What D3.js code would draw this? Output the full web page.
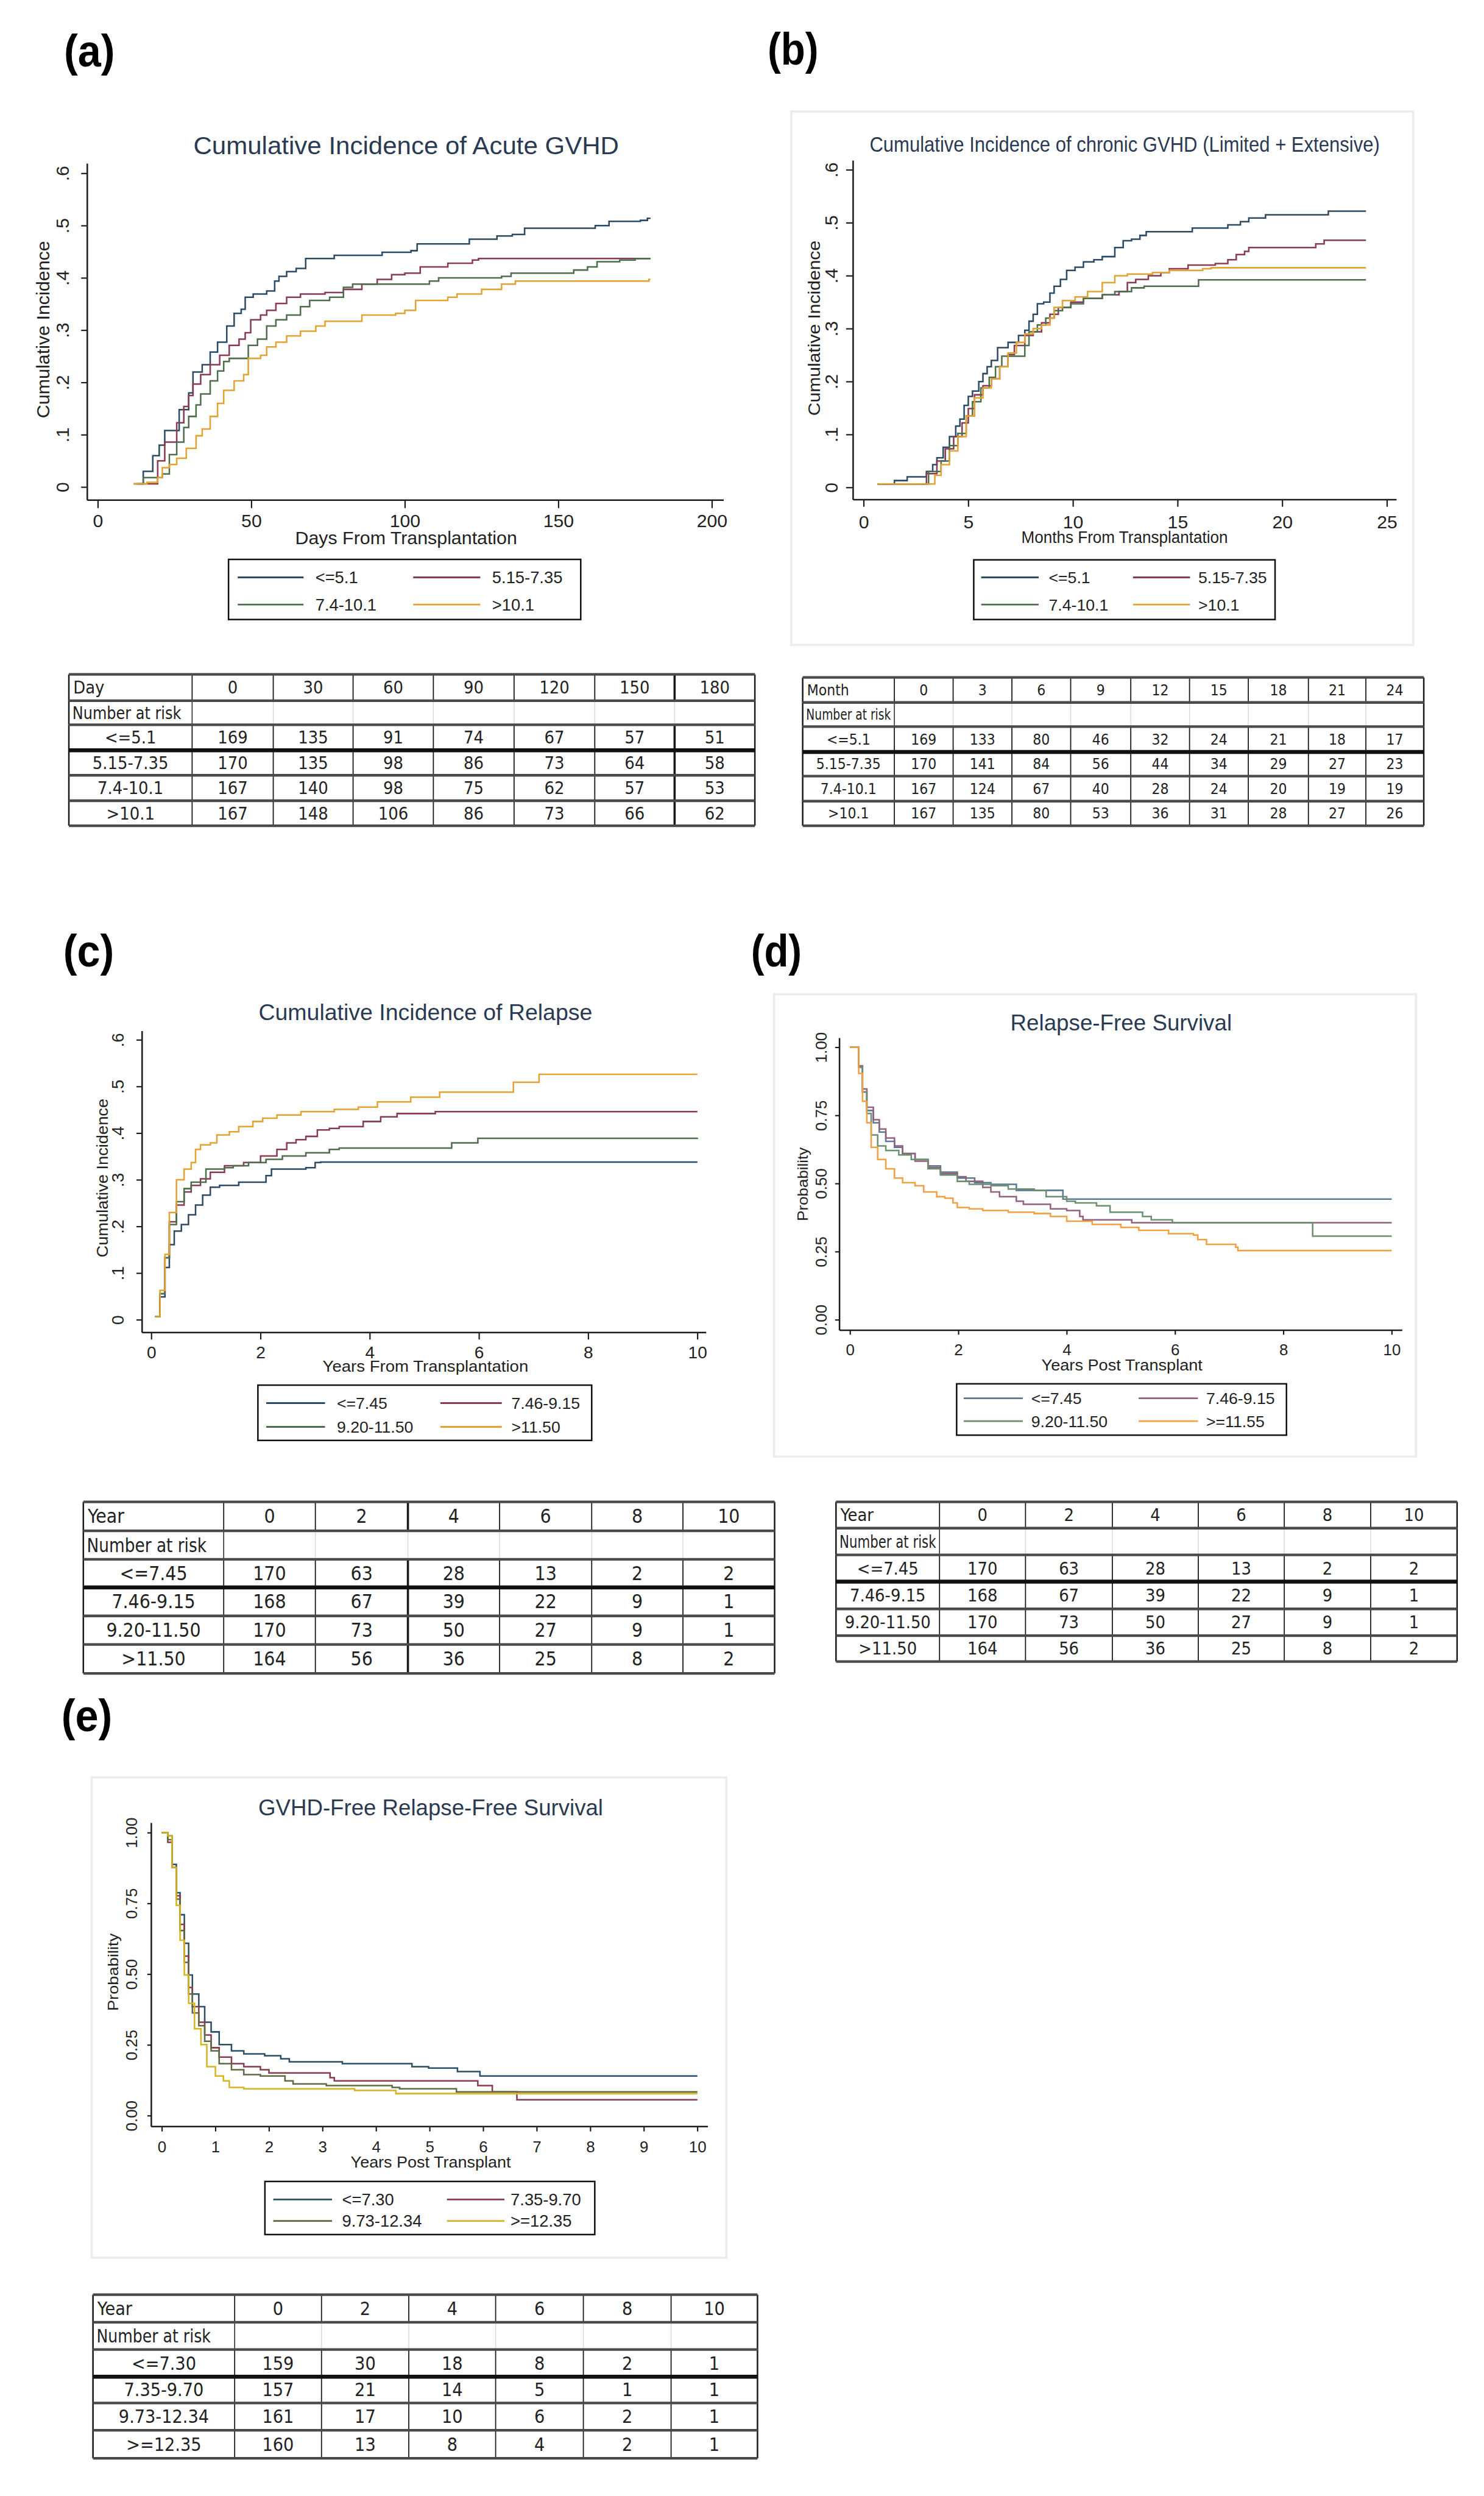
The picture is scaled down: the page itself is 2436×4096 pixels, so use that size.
<!DOCTYPE html>
<html lang="en">
  <head>
    <meta charset="utf-8" />
    <title>GVHD panels</title>
    <script src="https://d3js.org/d3.v7.min.js"></script>
    <style>
      body { margin: 0; background: #fff; }
      .chart text { font-family: "Liberation Sans", Arial, sans-serif; }
      .tbl text { font-family: "Liberation Sans Narrow", "DejaVu Sans Condensed", "Liberation Sans", sans-serif; fill: #222; }
    </style>
  </head>
  <body>
    <script>
      // ---- curve data (time, value) ----
      // (a) acute GVHD, days
      var aLow = [[11.7,0.006],[14.8,0.03],[17.9,0.06],[20,0.08],[21.8,0.108],[26.5,0.148],[29.6,0.18],[31,0.22],[34,0.234],[36.6,0.258],[39,0.277],[42,0.308],[44.4,0.332],[46.7,0.34],[48,0.363],[50.6,0.369],[55,0.375],[57.6,0.394],[59,0.403],[61.5,0.412],[64.6,0.418],[67.7,0.437],[77,0.443],[92.6,0.449],[102,0.452],[104,0.465],[121,0.474],[130,0.48],[135,0.483],[139,0.495],[162,0.5],[166.5,0.508],[176.7,0.51],[179,0.514],[180,0.514]];
      var aMid1 = [[12.5,0.006],[19.5,0.05],[21.8,0.086],[25.7,0.123],[28,0.154],[29.6,0.175],[31,0.197],[33.5,0.215],[36.6,0.234],[39.7,0.252],[42.8,0.271],[46,0.283],[48,0.295],[49.8,0.32],[53,0.329],[55,0.338],[58,0.351],[61.5,0.363],[66,0.369],[74,0.372],[80,0.378],[86,0.388],[91,0.397],[95.7,0.406],[100,0.409],[105,0.421],[114,0.428],[122,0.434],[124,0.437],[180,0.437]];
      var aMid2 = [[13,0.006],[14.8,0.018],[21,0.025],[23.3,0.062],[25.7,0.086],[28,0.114],[29.6,0.135],[32,0.157],[33.5,0.178],[36.6,0.203],[39,0.222],[41,0.24],[42.8,0.246],[49,0.271],[52,0.283],[55,0.308],[58,0.32],[61.5,0.329],[66,0.345],[69,0.357],[75.5,0.363],[80,0.382],[83,0.388],[108,0.394],[111,0.4],[131.5,0.403],[134.6,0.409],[155,0.415],[159.5,0.421],[162.6,0.431],[170,0.434],[175,0.437],[180,0.437]];
      var aHigh = [[11.7,0.006],[16,0.009],[19.5,0.018],[21,0.037],[23.3,0.043],[25.7,0.055],[28.8,0.074],[32,0.098],[34,0.111],[36.6,0.135],[39,0.16],[41,0.185],[44.4,0.203],[47.5,0.215],[49,0.246],[53,0.252],[55,0.268],[58,0.277],[61.5,0.289],[66,0.298],[71,0.308],[74,0.317],[86,0.329],[97,0.332],[100,0.338],[103.5,0.357],[114,0.363],[117,0.369],[125,0.378],[131.5,0.388],[136,0.394],[179.5,0.397],[180,0.397]];
      var aLabels = ["<=5.1", "5.15-7.35", "7.4-10.1", ">10.1"];

      // (b) chronic GVHD, months
      var bLow = [[0.67,0.0066],[1.47,0.013],[2.08,0.02],[3,0.03],[3.3,0.043],[3.5,0.056],[3.8,0.076],[4.1,0.096],[4.4,0.116],[4.6,0.129],[4.8,0.155],[5,0.172],[5.2,0.182],[5.5,0.2],[5.7,0.215],[5.9,0.228],[6.1,0.24],[6.4,0.264],[6.9,0.274],[7.4,0.287],[7.7,0.297],[7.9,0.314],[8.1,0.327],[8.3,0.347],[8.6,0.35],[8.9,0.367],[9.1,0.38],[9.4,0.393],[9.7,0.41],[10.1,0.416],[10.5,0.426],[11,0.43],[11.4,0.436],[12,0.453],[12.4,0.466],[12.8,0.469],[13.2,0.476],[13.5,0.483],[15.7,0.49],[17.4,0.496],[18,0.502],[18.4,0.509],[19.2,0.515],[22.2,0.522],[24,0.522]];
      var bMid1 = [[0.67,0.0066],[3,0.026],[3.5,0.05],[3.9,0.073],[4.3,0.096],[4.7,0.122],[5,0.149],[5.3,0.175],[5.7,0.192],[6.1,0.205],[6.5,0.228],[6.9,0.251],[7.2,0.268],[7.7,0.287],[8.1,0.294],[8.5,0.311],[8.9,0.327],[9.3,0.34],[9.9,0.35],[10.5,0.357],[11.4,0.364],[12.2,0.37],[12.6,0.387],[13,0.393],[13.6,0.4],[14.2,0.406],[14.6,0.413],[15.5,0.42],[16.8,0.423],[17.4,0.43],[17.8,0.44],[18.2,0.446],[18.4,0.453],[21.6,0.46],[22,0.467],[24,0.467]];
      var bMid2 = [[0.67,0.0066],[3.1,0.03],[3.7,0.05],[4.1,0.079],[4.5,0.102],[4.9,0.135],[5.2,0.162],[5.6,0.188],[6,0.208],[6.3,0.228],[6.6,0.248],[7.7,0.268],[7.9,0.294],[8.3,0.307],[8.7,0.32],[9.1,0.334],[9.5,0.34],[9.9,0.347],[10.5,0.357],[11.4,0.364],[12,0.37],[12.8,0.377],[13.4,0.38],[16,0.392],[24,0.392]];
      var bHigh = [[0.67,0.0066],[3.4,0.023],[3.7,0.043],[4.1,0.069],[4.5,0.096],[4.9,0.135],[5.3,0.169],[5.7,0.188],[6.1,0.205],[6.5,0.228],[6.9,0.254],[7.3,0.274],[7.7,0.29],[8.1,0.3],[8.5,0.307],[8.9,0.32],[9.1,0.34],[9.5,0.353],[10.1,0.36],[10.7,0.37],[11.4,0.387],[12,0.4],[12.6,0.403],[13.8,0.406],[14.6,0.41],[16.2,0.413],[16.6,0.415],[24,0.415]];
      var bLabels = ["<=5.1", "5.15-7.35", "7.4-10.1", ">10.1"];

      // (c) relapse, years
      var cLow = [[0.07,0.007],[0.16,0.049],[0.25,0.112],[0.33,0.161],[0.42,0.19],[0.55,0.204],[0.68,0.225],[0.81,0.246],[0.94,0.267],[1.08,0.284],[1.25,0.288],[1.6,0.295],[2.1,0.309],[2.2,0.323],[2.83,0.326],[3.0,0.337],[3.1,0.338],[10,0.338]];
      var cMid1 = [[0.07,0.007],[0.16,0.056],[0.25,0.133],[0.33,0.21],[0.46,0.246],[0.6,0.274],[0.73,0.288],[0.9,0.302],[1.08,0.316],[1.34,0.33],[1.69,0.337],[2.0,0.351],[2.3,0.365],[2.48,0.379],[2.65,0.386],[2.83,0.393],[3.04,0.407],[3.26,0.41],[3.44,0.414],[3.88,0.425],[4.2,0.435],[4.5,0.442],[5.2,0.446],[10,0.446]];
      var cMid2 = [[0.07,0.007],[0.16,0.056],[0.25,0.133],[0.33,0.204],[0.46,0.253],[0.6,0.281],[0.73,0.295],[1.0,0.323],[1.34,0.326],[1.5,0.33],[1.78,0.337],[2.1,0.344],[2.4,0.351],[2.83,0.358],[3.26,0.365],[3.44,0.368],[5.5,0.379],[5.98,0.389],[10,0.39]];
      var cHigh = [[0.07,0.007],[0.16,0.063],[0.25,0.14],[0.33,0.23],[0.46,0.3],[0.6,0.323],[0.73,0.337],[0.81,0.365],[0.9,0.375],[1.08,0.379],[1.2,0.396],[1.43,0.403],[1.6,0.414],[1.86,0.425],[2.04,0.432],[2.3,0.439],[2.74,0.446],[3.35,0.451],[3.79,0.456],[4.14,0.467],[4.75,0.477],[5.28,0.488],[6.63,0.509],[7.1,0.526],[10,0.526]];
      var cLabels = ["<=7.45", "7.46-9.15", "9.20-11.50", ">11.50"];

      // (d) relapse-free survival, years
      var dLow = [[0,1],[0.08,1],[0.16,0.927],[0.23,0.836],[0.31,0.768],[0.43,0.723],[0.54,0.689],[0.66,0.655],[0.82,0.633],[0.97,0.61],[1.2,0.588],[1.44,0.565],[1.67,0.542],[1.98,0.52],[2.3,0.503],[2.6,0.497],[3.07,0.475],[3.93,0.443],[10,0.443]];
      var dMid1 = [[0,1],[0.08,1],[0.16,0.932],[0.23,0.847],[0.31,0.78],[0.43,0.734],[0.54,0.7],[0.66,0.667],[0.82,0.638],[0.97,0.61],[1.2,0.582],[1.44,0.559],[1.67,0.537],[1.98,0.525],[2.14,0.508],[2.45,0.486],[2.6,0.469],[2.76,0.452],[3.07,0.435],[3.2,0.424],[3.7,0.407],[4.0,0.401],[4.24,0.379],[4.3,0.367],[5.2,0.356],[10,0.356]];
      var dMid2 = [[0,1],[0.08,1],[0.16,0.927],[0.23,0.836],[0.31,0.757],[0.39,0.678],[0.51,0.638],[0.66,0.621],[0.9,0.605],[1.13,0.588],[1.44,0.554],[1.67,0.531],[1.98,0.508],[2.2,0.497],[2.6,0.492],[2.92,0.48],[3.4,0.475],[3.62,0.452],[4.0,0.435],[4.16,0.429],[4.55,0.418],[4.8,0.395],[5.4,0.379],[5.56,0.367],[5.95,0.356],[8.54,0.307],[10,0.307]];
      var dHigh = [[0,1],[0.08,1],[0.16,0.904],[0.23,0.802],[0.31,0.723],[0.39,0.633],[0.51,0.588],[0.66,0.554],[0.82,0.52],[0.97,0.503],[1.2,0.492],[1.36,0.469],[1.6,0.452],[1.75,0.446],[1.9,0.429],[1.98,0.412],[2.2,0.407],[2.45,0.401],[2.92,0.395],[3.4,0.39],[3.7,0.379],[4.0,0.362],[4.47,0.35],[5.0,0.339],[5.33,0.328],[5.88,0.316],[6.34,0.311],[6.42,0.294],[6.58,0.277],[7.12,0.266],[7.16,0.254],[10,0.254]];
      var dLabels = ["<=7.45", "7.46-9.15", "9.20-11.50", ">=11.55"];

      // (e) GVHD-free relapse-free survival, years
      var eLow = [[0,1],[0.11,0.989],[0.19,0.888],[0.27,0.788],[0.34,0.71],[0.42,0.609],[0.5,0.497],[0.57,0.43],[0.69,0.385],[0.8,0.33],[0.92,0.296],[1.07,0.251],[1.3,0.229],[1.53,0.218],[1.92,0.212],[2.22,0.201],[2.38,0.19],[3.37,0.184],[4.67,0.173],[4.98,0.168],[5.52,0.156],[5.94,0.14],[10,0.14]];
      var eMid1 = [[0,1],[0.11,0.966],[0.19,0.877],[0.27,0.777],[0.34,0.676],[0.42,0.564],[0.5,0.453],[0.57,0.385],[0.69,0.33],[0.8,0.285],[0.92,0.24],[1.07,0.207],[1.3,0.184],[1.53,0.173],[1.84,0.162],[2.0,0.151],[3.14,0.134],[3.22,0.123],[5.9,0.106],[6.17,0.084],[6.63,0.056],[10,0.056]];
      var eMid2 = [[0,1],[0.11,0.975],[0.19,0.877],[0.27,0.765],[0.34,0.654],[0.42,0.542],[0.5,0.43],[0.57,0.363],[0.69,0.318],[0.8,0.263],[0.92,0.229],[1.07,0.184],[1.3,0.162],[1.53,0.145],[1.84,0.14],[2.3,0.123],[2.45,0.112],[3.07,0.106],[4.3,0.1],[4.44,0.095],[5.5,0.084],[10,0.084]];
      var eHigh = [[0,1],[0.11,0.989],[0.19,0.877],[0.27,0.743],[0.34,0.62],[0.42,0.497],[0.5,0.397],[0.61,0.307],[0.73,0.251],[0.84,0.173],[1.0,0.14],[1.15,0.123],[1.26,0.1],[1.53,0.095],[3.6,0.089],[4.37,0.078],[10,0.078]];
      var eLabels = ["<=7.30", "7.35-9.70", "9.73-12.34", ">=12.35"];

      // ---- number at risk tables ----
      var tAHead = ["Day", "0", "30", "60", "90", "120", "150", "180"];
      var tARows = ["<=5.1", "5.15-7.35", "7.4-10.1", ">10.1"];
      var tAVals = [[169,135,91,74,67,57,51],[170,135,98,86,73,64,58],[167,140,98,75,62,57,53],[167,148,106,86,73,66,62]];
      var tBHead = ["Month", "0", "3", "6", "9", "12", "15", "18", "21", "24"];
      var tBRows = ["<=5.1", "5.15-7.35", "7.4-10.1", ">10.1"];
      var tBVals = [[169,133,80,46,32,24,21,18,17],[170,141,84,56,44,34,29,27,23],[167,124,67,40,28,24,20,19,19],[167,135,80,53,36,31,28,27,26]];
      var tCHead = ["Year", "0", "2", "4", "6", "8", "10"];
      var tCRows = ["<=7.45", "7.46-9.15", "9.20-11.50", ">11.50"];
      var tCVals = [[170,63,28,13,2,2],[168,67,39,22,9,1],[170,73,50,27,9,1],[164,56,36,25,8,2]];
      var tDVals = [[170,63,28,13,2,2],[168,67,39,22,9,1],[170,73,50,27,9,1],[164,56,36,25,8,2]];
      var tEHead = ["Year", "0", "2", "4", "6", "8", "10"];
      var tERows = ["<=7.30", "7.35-9.70", "9.73-12.34", ">=12.35"];
      var tEVals = [[159,30,18,8,2,1],[157,21,14,5,1,1],[161,17,10,6,2,1],[160,13,8,4,2,1]];

      var darkCols = ["#2b4a66", "#8a3a52", "#4b6e4b", "#e3a232"];
      var lightCols = ["#5a7a94", "#93607f", "#6a9070", "#f2a040"];
      var eCols = ["#2b4f66", "#8b3a4a", "#5e6b40", "#d9b320"];

      // everything is laid out in the reference's pixel space, then scaled
      var svg = d3.select("body").append("svg")
        .attr("width", 2436)
        .attr("height", 4096);
      var root = svg.append("g").attr("transform", "scale(0.72)");

      function drawPanel(p) {
        var g = root.append("g").attr("class", "chart");
        if (p.frame) {
          g.append("rect")
            .attr("x", p.frame[0]).attr("y", p.frame[1])
            .attr("width", p.frame[2] - p.frame[0]).attr("height", p.frame[3] - p.frame[1])
            .attr("fill", "none").attr("stroke", "#ececec").attr("stroke-width", 5);
        }
        g.append("text").attr("x", p.tag[0]).attr("y", p.tag[1])
          .attr("font-size", 104).attr("font-weight", "bold")
          .attr("textLength", 116).attr("lengthAdjust", "spacingAndGlyphs")
          .text(p.tagText);

        g.append("text").attr("x", p.title[0]).attr("y", p.title[1])
          .attr("text-anchor", "middle").attr("font-size", p.title[2])
          .attr("textLength", p.title[3]).attr("lengthAdjust", "spacingAndGlyphs")
          .attr("fill", "#2a3a52").text(p.titleText);

        var x = d3.scaleLinear().domain(p.xDom).range(p.xRng);
        var y = d3.scaleLinear().domain(p.yDom).range(p.yRng);

        // axis lines span the whole plot region like Stata does
        g.append("line").attr("x1", p.axX).attr("x2", p.axX).attr("y1", p.axTop).attr("y2", p.axY)
          .attr("stroke", "#1a1a1a").attr("stroke-width", 3.5);
        g.append("line").attr("x1", p.axX).attr("x2", p.axRight).attr("y1", p.axY).attr("y2", p.axY)
          .attr("stroke", "#1a1a1a").attr("stroke-width", 3.5);

        var xa = g.append("g").attr("transform", "translate(0," + p.axY + ")")
          .call(d3.axisBottom(x).tickValues(p.xTicks).tickSize(p.xTickLen).tickSizeOuter(0).tickFormat(function (d) { return d; }));
        xa.select(".domain").remove();
        xa.attr("font-size", null).attr("font-family", null);
        xa.selectAll("line").attr("stroke", "#1a1a1a").attr("stroke-width", 3);
        xa.selectAll("text").attr("y", p.xLabOff).attr("dy", null)
          .attr("font-size", p.tickFont).attr("fill", "#222");

        var ya = g.append("g").attr("transform", "translate(" + p.axX + ",0)")
          .call(d3.axisLeft(y).tickValues(p.yTicks).tickSize(p.yTickLen).tickSizeOuter(0).tickFormat(p.yFmt));
        ya.select(".domain").remove();
        ya.attr("font-size", null).attr("font-family", null);
        ya.selectAll("line").attr("stroke", "#1a1a1a").attr("stroke-width", 3);
        ya.selectAll("text").attr("x", null).attr("dy", null)
          .attr("text-anchor", "middle")
          .attr("transform", "translate(" + (-p.yLabOff) + ",0) rotate(-90)")
          .attr("font-size", p.tickFont).attr("fill", "#222");

        g.append("text").attr("x", p.xTitle[0]).attr("y", p.xTitle[1])
          .attr("text-anchor", "middle").attr("font-size", p.xTitle[2])
          .attr("textLength", p.xTitle[3]).attr("lengthAdjust", "spacingAndGlyphs")
          .attr("fill", "#222").text(p.xTitleText);
        g.append("text")
          .attr("transform", "translate(" + p.yTitle[0] + "," + p.yTitle[1] + ") rotate(-90)")
          .attr("text-anchor", "middle").attr("font-size", p.yTitle[2])
          .attr("textLength", p.yTitle[3]).attr("lengthAdjust", "spacingAndGlyphs")
          .attr("fill", "#222").text(p.yTitleText);

        var line = d3.line()
          .x(function (d) { return x(d[0]); })
          .y(function (d) { return y(d[1]); })
          .curve(d3.curveStepAfter);

        p.series.forEach(function (s, i) {
          g.append("path").datum(s)
            .attr("d", line)
            .attr("fill", "none")
            .attr("stroke", p.colors[i])
            .attr("stroke-width", 3.5);
        });

        // legend, two columns by two rows
        var L = p.legend;
        g.append("rect").attr("x", L.box[0]).attr("y", L.box[1])
          .attr("width", L.box[2] - L.box[0]).attr("height", L.box[3] - L.box[1])
          .attr("fill", "#fff").attr("stroke", "#111").attr("stroke-width", 3.5);
        p.labels.forEach(function (lab, i) {
          var col = i % 2, row = Math.floor(i / 2);
          var seg = col == 0 ? L.seg1 : L.seg2;
          var tx = col == 0 ? L.t1 : L.t2;
          var ly = L.rows[row];
          g.append("line").attr("x1", seg[0]).attr("x2", seg[1]).attr("y1", ly).attr("y2", ly)
            .attr("stroke", p.colors[i]).attr("stroke-width", 4);
          g.append("text").attr("x", tx).attr("y", ly + L.size * 0.36)
            .attr("font-size", L.size).attr("fill", "#222").text(lab);
        });
      }

      function drawTable(t) {
        var g = root.append("g").attr("class", "tbl");
        var C = t.cols, R = t.rows;
        var x0 = C[0], x1 = C[C.length - 1];
        // vertical rules
        C.forEach(function (cx, i) {
          var outer = i == 0 || i == C.length - 1;
          var w = outer ? 3.5 : (i == t.thick ? 5 : 2.5);
          g.append("line").attr("x1", cx).attr("x2", cx).attr("y1", R[0]).attr("y2", R[1])
            .attr("stroke", "#1a1a1a").attr("stroke-width", w);
          g.append("line").attr("x1", cx).attr("x2", cx).attr("y1", R[1]).attr("y2", R[2])
            .attr("stroke", (outer || i == 1) ? "#1a1a1a" : "#d8d8d8").attr("stroke-width", outer ? 3.5 : 2);
          g.append("line").attr("x1", cx).attr("x2", cx).attr("y1", R[2]).attr("y2", R[R.length - 1])
            .attr("stroke", "#1a1a1a").attr("stroke-width", w);
        });
        // horizontal rules
        R.forEach(function (ry, i) {
          var heavy = i == 3;
          g.append("line").attr("x1", x0).attr("x2", x1).attr("y1", ry).attr("y2", ry)
            .attr("stroke", heavy ? "#111" : "#4a4a4a").attr("stroke-width", heavy ? 9 : 6);
        });
        var fs = t.size;
        function mid(a, b) { return (a + b) / 2 + fs * 0.35; }
        g.append("text").attr("x", x0 + 10).attr("y", mid(R[0], R[1]))
          .attr("font-size", fs).text(t.head[0]);
        t.head.slice(1).forEach(function (h, j) {
          g.append("text").attr("x", (C[j + 1] + C[j + 2]) / 2).attr("y", mid(R[0], R[1]))
            .attr("text-anchor", "middle").attr("font-size", fs).text(h);
        });
        g.append("text").attr("x", x0 + 8).attr("y", mid(R[1], R[2]))
          .attr("font-size", fs)
          .attr("textLength", Math.min(C[1] - C[0] - 16, fs * 6.2)).attr("lengthAdjust", "spacingAndGlyphs")
          .text("Number at risk");
        t.labels.forEach(function (lab, r) {
          var yy = mid(R[r + 2], R[r + 3]);
          g.append("text").attr("x", (C[0] + C[1]) / 2).attr("y", yy)
            .attr("text-anchor", "middle").attr("font-size", fs).text(lab);
          t.vals[r].forEach(function (v, j) {
            g.append("text").attr("x", (C[j + 1] + C[j + 2]) / 2).attr("y", yy)
              .attr("text-anchor", "middle").attr("font-size", fs).text(v);
          });
        });
      }

      function decFmt(d) { return d == 0 ? "0" : "." + Math.round(d * 10); }
      function prob(d) { return d.toFixed(2); }

      drawPanel({
        tagText: "(a)", tag: [146, 152],
        titleText: "Cumulative Incidence of Acute GVHD", title: [926, 351, 56, 970],
        axX: 199, axY: 1140, axTop: 373, axRight: 1650,
        xDom: [0, 200], xRng: [223, 1623], xTicks: [0, 50, 100, 150, 200], xTickLen: 18, xLabOff: 62,
        yDom: [0, 0.6], yRng: [1110, 395], yTicks: [0, 0.1, 0.2, 0.3, 0.4, 0.5, 0.6], yTickLen: 14, yLabOff: 42, yFmt: decFmt,
        tickFont: 42,
        xTitleText: "Days From Transplantation", xTitle: [926, 1240, 40, 506],
        yTitleText: "Cumulative Incidence", yTitle: [113, 751, 40, 404],
        series: [aLow, aMid1, aMid2, aHigh], labels: aLabels, colors: darkCols,
        legend: { box: [521, 1275, 1324, 1412], rows: [1316, 1378], seg1: [542, 692], t1: 719, seg2: [942, 1095], t2: 1122, size: 38 }
      });

      drawPanel({
        frame: [1804, 254, 3222, 1470],
        tagText: "(b)", tag: [1750, 147],
        titleText: "Cumulative Incidence of chronic GVHD (Limited + Extensive)", title: [2564, 346, 48, 1163],
        axX: 1945, axY: 1139, axTop: 366, axRight: 3184,
        xDom: [0, 25], xRng: [1969, 3162], xTicks: [0, 5, 10, 15, 20, 25], xTickLen: 16, xLabOff: 65,
        yDom: [0, 0.6], yRng: [1111, 387], yTicks: [0, 0.1, 0.2, 0.3, 0.4, 0.5, 0.6], yTickLen: 16, yLabOff: 35, yFmt: decFmt,
        tickFont: 42,
        xTitleText: "Months From Transplantation", xTitle: [2564, 1237, 38, 471],
        yTitleText: "Cumulative Incidence", yTitle: [1870, 748, 38, 399],
        series: [bLow, bMid1, bMid2, bHigh], labels: bLabels, colors: darkCols,
        legend: { box: [2220, 1276, 2907, 1412], rows: [1316, 1378], seg1: [2237, 2368], t1: 2391, seg2: [2583, 2713], t2: 2732, size: 37 }
      });

      drawPanel({
        tagText: "(c)", tag: [144, 2203],
        titleText: "Cumulative Incidence of Relapse", title: [970, 2325, 50, 761],
        axX: 324, axY: 3037, axTop: 2350, axRight: 1610,
        xDom: [0, 10], xRng: [345, 1590], xTicks: [0, 2, 4, 6, 8, 10], xTickLen: 16, xLabOff: 59,
        yDom: [0, 0.6], yRng: [3008, 2370], yTicks: [0, 0.1, 0.2, 0.3, 0.4, 0.5, 0.6], yTickLen: 13, yLabOff: 42, yFmt: decFmt,
        tickFont: 39,
        xTitleText: "Years From Transplantation", xTitle: [970, 3126, 37, 469],
        yTitleText: "Cumulative Incidence", yTitle: [246, 2685, 37, 362],
        series: [cLow, cMid1, cMid2, cHigh], labels: cLabels, colors: darkCols,
        legend: { box: [588, 3157, 1349, 3283], rows: [3198, 3252], seg1: [607, 741], t1: 768, seg2: [1004, 1144], t2: 1166, size: 37 }
      });

      drawPanel({
        frame: [1765, 2266, 3228, 3320],
        tagText: "(d)", tag: [1712, 2203],
        titleText: "Relapse-Free Survival", title: [2556, 2348, 50, 505],
        axX: 1914, axY: 3032, axTop: 2366, axRight: 3197,
        xDom: [0, 10], xRng: [1938, 3173], xTicks: [0, 2, 4, 6, 8, 10], xTickLen: 10, xLabOff: 57,
        yDom: [0, 1], yRng: [3008, 2387], yTicks: [0, 0.25, 0.5, 0.75, 1], yTickLen: 10, yLabOff: 29, yFmt: prob,
        tickFont: 36,
        xTitleText: "Years Post Transplant", xTitle: [2558, 3124, 37, 367],
        yTitleText: "Probability", yTitle: [1842, 2699, 34, 168],
        series: [dLow, dMid1, dMid2, dHigh], labels: dLabels, colors: lightCols,
        legend: { box: [2181, 3154, 2933, 3271], rows: [3187, 3239], seg1: [2197, 2332], t1: 2351, seg2: [2596, 2731], t2: 2750, size: 37 }
      });

      drawPanel({
        frame: [209, 4051, 1656, 5146],
        tagText: "(e)", tag: [140, 3946],
        titleText: "GVHD-Free Relapse-Free Survival", title: [982, 4137, 50, 786],
        axX: 345, axY: 4847, axTop: 4155, axRight: 1614,
        xDom: [0, 10], xRng: [369, 1590], xTicks: [0, 1, 2, 3, 4, 5, 6, 7, 8, 9, 10], xTickLen: 11, xLabOff: 59,
        yDom: [0, 1], yRng: [4822, 4177], yTicks: [0, 0.25, 0.5, 0.75, 1], yTickLen: 9, yLabOff: 33, yFmt: prob,
        tickFont: 36,
        xTitleText: "Years Post Transplant", xTitle: [982, 4940, 36, 365],
        yTitleText: "Probability", yTitle: [269, 4495, 34, 177],
        series: [eLow, eMid1, eMid2, eHigh], labels: eLabels, colors: eCols,
        legend: { box: [604, 4972, 1356, 5093], rows: [5013, 5062], seg1: [623, 757], t1: 780, seg2: [1019, 1150], t2: 1164, size: 38 }
      });

      drawTable({ cols: [157, 438, 623, 805, 988, 1172, 1356, 1538, 1721], rows: [1537, 1597, 1652, 1710, 1767, 1825, 1882],
        head: tAHead, labels: tARows, vals: tAVals, size: 40, thick: 7 });
      drawTable({ cols: [1830, 2039, 2173, 2307, 2441, 2578, 2712, 2846, 2983, 3114, 3246], rows: [1544, 1601, 1656, 1714, 1769, 1826, 1882],
        head: tBHead, labels: tBRows, vals: tBVals, size: 34, thick: -1 });
      drawTable({ cols: [190, 510, 719, 930, 1139, 1349, 1557, 1766], rows: [3423, 3489, 3554, 3618, 3683, 3748, 3814],
        head: tCHead, labels: tCRows, vals: tCVals, size: 44, thick: 3 });
      drawTable({ cols: [1906, 2142, 2338, 2536, 2732, 2928, 3125, 3322], rows: [3423, 3483, 3544, 3605, 3667, 3728, 3787],
        head: tCHead, labels: tCRows, vals: tDVals, size: 40, thick: -1 });
      drawTable({ cols: [212, 535, 733, 932, 1130, 1330, 1530, 1727], rows: [5230, 5293, 5355, 5417, 5477, 5539, 5603],
        head: tEHead, labels: tERows, vals: tEVals, size: 42, thick: -1 });
    </script>
  </body>
</html>
